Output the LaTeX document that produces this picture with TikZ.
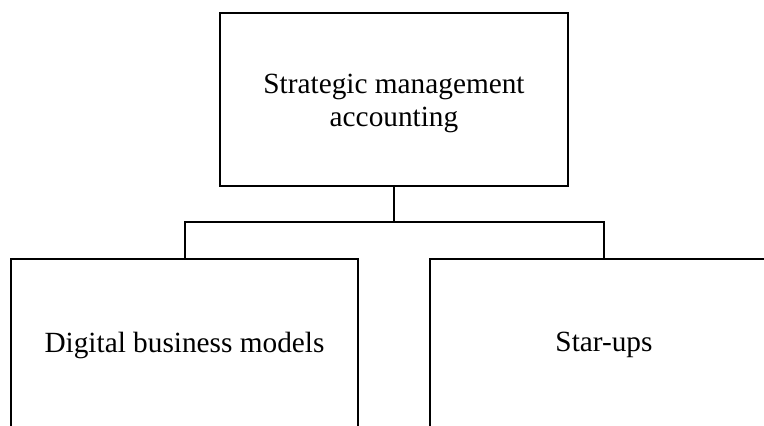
\documentclass[tikz,border=0pt]{standalone}
\usepackage{fontspec}
\setmainfont{Liberation Serif}
\begin{document}
\begin{tikzpicture}[x=1pt,y=1pt,
  box/.style={draw=black,line width=2pt,fill=white,inner sep=0pt,align=center,
    font=\fontsize{29.3}{33}\selectfont},
  lbl/.style={inner sep=0pt,align=center,font=\fontsize{29.3}{33}\selectfont},
  conn/.style={draw=black,line width=2pt}]
\useasboundingbox (0,0) rectangle (764,-426);
\clip (0,0) rectangle (764,-426);
\node[box,minimum width=348,minimum height=173] (top) at (394,-99.5) {};
\node[lbl] (toptext) at (394,-103) {Strategic management\\accounting};
\node[box,minimum width=347,minimum height=172] (left) at (184.5,-345) {Digital business models};
\node[box,minimum width=348,minimum height=172] (right) at (604,-345) {Star-ups};
\coordinate (j) at (394,-222);
\draw[conn] (top.south) -- (j);
\draw[conn] (left.north) |- (j) -| (right.north);
\end{tikzpicture}
\end{document}
